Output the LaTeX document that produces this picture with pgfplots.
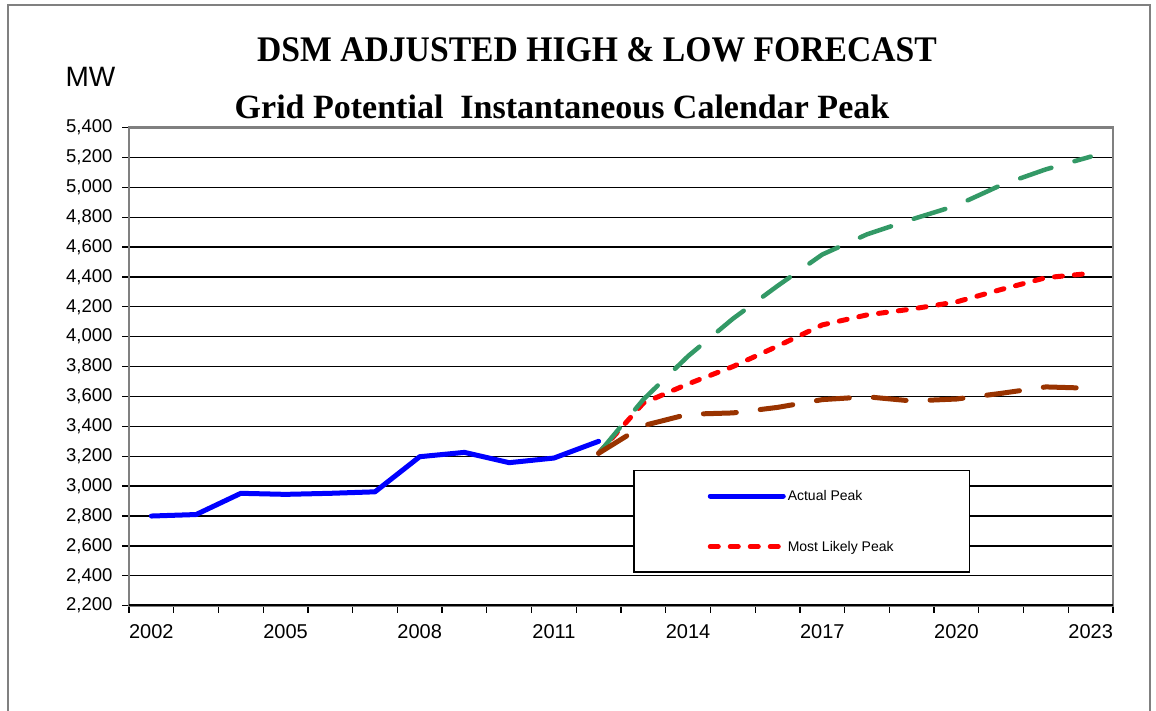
\documentclass[border=0pt]{standalone}
\usepackage{pgfplots}
\pgfplotsset{compat=1.18}
\usepackage{fontspec}
\setmainfont{Liberation Sans}
\newfontfamily\titlefont{Liberation Serif}

\definecolor{actualblue}{RGB}{0,0,255}
\definecolor{likelyred}{RGB}{255,0,0}
\definecolor{highgreen}{RGB}{51,153,102}
\definecolor{lowbrown}{RGB}{153,51,0}
\definecolor{framegray}{RGB}{128,128,128}

% Peak demand, MW; x = year index (0 = 2002 ... 21 = 2023)
\pgfplotstableread{
x   y
0   2800
1   2810
2   2952
3   2945
4   2952
5   2962
6   3197
7   3226
8   3157
9   3188
10  3300
}\actualpeak

\pgfplotstableread{
x   y
10  3220
11  3556
12  3684
13  3800
14  3937
15  4079
16  4146
17  4185
18  4233
19  4316
20  4395
21  4424
}\likelypeak

\pgfplotstableread{
x   y
10  3220
11  3580
12  3870
13  4120
14  4340
15  4550
16  4685
17  4785
18  4878
19  5015
20  5120
21  5205
}\highpeak

\pgfplotstableread{
x   y
10  3220
11  3405
12  3481
13  3490
14  3527
15  3579
16  3598
17  3570
18  3583
19  3621
20  3664
21  3655
}\lowpeak

\begin{document}
\begin{tikzpicture}[x=1pt,y=1pt]
\useasboundingbox (0,0) rectangle (1156,711);
% outer frame of the exhibit
\draw[framegray, line width=1.2pt] (8,-20) rectangle (1150,706);

\node[anchor=base, font=\titlefont\bfseries\fontsize{36}{40}\selectfont]
  at (597,649) {\scalebox{0.935}[1]{DSM ADJUSTED HIGH \& LOW FORECAST}};
\node[anchor=base, font=\titlefont\bfseries\fontsize{34}{38}\selectfont]
  at (562,592) {Grid Potential\ \ Instantaneous Calendar Peak};
\node[anchor=base west, font=\fontsize{28}{32}\selectfont] at (62,624) {MW};

\begin{axis}[
  at={(129pt,105.3pt)}, anchor=south west,
  scale only axis, width=984pt, height=478.2pt,
  xmin=-0.5, xmax=21.5, ymin=2200, ymax=5400,
  ytick distance=200,
  xtick={-0.5,0.5,...,21.5}, xticklabels={},
  extra x ticks={0,3,...,21},
  extra x tick labels={2002,2005,2008,2011,2014,2017,2020,2023},
  extra x tick style={major tick length=0pt, grid=none},
  ymajorgrids, grid style={black, line width=1.3pt},
  axis line style={framegray, line width=2.5pt},
  tick align=outside, major tick length=7pt,
  tick style={black, line width=1.3pt},
  xtick pos=bottom, ytick pos=left,
  /pgf/number format/1000 sep={,},
  /pgf/number format/assume math mode=true,
  yticklabel style={font=\fontsize{18.5}{22}\selectfont, xshift=-6pt},
  xticklabel style={font=\fontsize{20}{24}\selectfont, yshift=-15pt},
  legend style={at={(0.5122,0.2838)}, anchor=north west,
    draw=black, line width=1.5pt, fill=white,
    inner xsep=74pt, inner ysep=17.5pt, row sep=35pt,
    nodes={inner sep=2pt},
    font=\fontsize{14}{16}\selectfont, cells={anchor=west}},
  legend image code/.code={\draw[#1] (0pt,0pt) -- (73pt,0pt);},
]
\addplot[actualblue, line width=5pt, line join=round, line cap=round]
  table[x=x,y=y] {\actualpeak};
\addlegendentry{Actual Peak}
\addplot[likelyred, line width=5pt, line join=round, line cap=round,
  dash pattern=on 8pt off 12pt]
  table[x=x,y=y] {\likelypeak};
\addlegendentry{Most Likely Peak}
\addplot[highgreen, line width=4.5pt, line join=round, line cap=round,
  dash pattern=on 33pt off 24pt, forget plot]
  table[x=x,y=y] {\highpeak};
\addplot[lowbrown, line width=5pt, line join=round, line cap=round,
  dash pattern=on 33pt off 24pt, forget plot]
  table[x=x,y=y] {\lowpeak};
\draw[black, line width=2.5pt] (rel axis cs:0,0) -- (rel axis cs:1,0);
\end{axis}
\end{tikzpicture}
\end{document}
